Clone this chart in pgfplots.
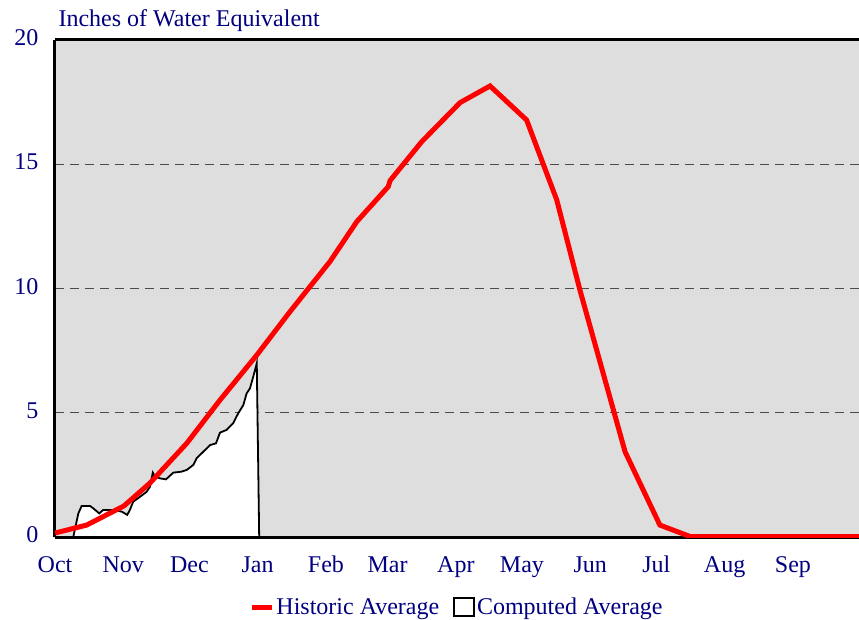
\documentclass[border=0pt]{standalone}
\usepackage{pgfplots}
\pgfplotsset{compat=1.18}
\usepackage{fontspec}
\setmainfont{Liberation Serif}
\definecolor{navy}{RGB}{0,0,128}
\definecolor{bggray}{RGB}{222,222,222}
\begin{document}
\begin{tikzpicture}
\begin{axis}[
  scale only axis, width=804bp, height=497bp,
  font=\fontsize{24bp}{28bp}\selectfont,
  /pgf/number format/assume math mode=true,
  xmin=0, xmax=365, ymin=0, ymax=20,
  axis x line*=box, axis y line*=left,
  axis line style={line width=3bp, -, black},
  axis background/.style={fill=bggray},
  xtick={0,31,61,92,123,151,182,212,243,273,304,335},
  xticklabels={Oct,Nov,Dec,Jan,Feb,Mar,Apr,May,Jun,Jul,Aug,Sep},
  ytick={0,5,10,15,20},
  major tick length=0pt,
  typeset ticklabels with strut,
  tick label style={text=navy},
  xticklabel style={yshift=-12bp},
  yticklabel style={xshift=-13bp},
  ymajorgrids,
  grid style={dash pattern=on 9bp off 6bp, line width=1bp, black!70},
  legend columns=2,
  reverse legend,
  legend style={at={(0.5,0)}, anchor=center, yshift=-70bp, draw=none, fill=none,
    text=navy, font=\fontsize{24bp}{28bp}\selectfont, inner sep=0pt,
    /tikz/every even column/.append style={column sep=12bp}},
  legend cell align=left,
]
\coordinate (sw) at (rel axis cs:0,0);
\coordinate (ne) at (rel axis cs:1,1);
\addplot[draw=black, line width=1.8bp, fill=white,
  legend image code/.code={\draw[black, line width=1.8bp, fill=white] (0bp,-9bp) rectangle (20bp,9bp);}]
coordinates {
(0,0) (8.3,0) (10.6,0.95) (12.1,1.25) (15.9,1.25) (17.4,1.15) (20.1,0.95) (21.9,1.09)
(26.5,1.09) (30.3,1.02) (32.8,0.89) (34.0,1.09) (35.5,1.42) (38.6,1.62) (41.6,1.82)
(43.1,2.02) (44.4,2.59) (45.4,2.43) (47.7,2.36) (50.4,2.32) (53.7,2.59) (57.5,2.63)
(59.8,2.70) (62.8,2.90) (64.3,3.17) (67.3,3.43) (70.4,3.70) (73.1,3.77) (74.9,4.20)
(77.9,4.31) (80.9,4.58) (83.2,4.98) (85.5,5.31) (87.0,5.78) (88.5,5.98) (90.0,6.45)
(91.6,6.99) (92.7,0)
} \closedcycle;
\addlegendentry{Computed Average}
\addplot[red, line width=5bp,
  legend image code/.code={\draw[red, line width=5bp] (0bp,0bp) -- (20bp,0bp);}]
coordinates {
(0,0.16) (14.4,0.48) (31.3,1.25) (43.1,2.17) (59.8,3.77) (74.9,5.51) (91.6,7.32)
(106.7,9.07) (124.8,11.08) (137,12.69) (151.3,14.1) (152.1,14.34) (166.5,15.91)
(183.9,17.48) (197.5,18.15) (214.1,16.78) (227.8,13.56) (238.3,9.94) (258.8,3.43)
(274.6,0.48) (288.3,0.02) (365,0.02)
};
\addlegendentry{Historic Average}
\end{axis}
\node[anchor=base west, text=navy, font=\fontsize{24bp}{28bp}\selectfont] at ([yshift=13bp]sw |- ne) {Inches of Water Equivalent};
\pgfresetboundingbox
\path ([shift={(-55bp,-83bp)}]sw) rectangle ([shift={(0bp,40bp)}]ne);
\end{tikzpicture}
\end{document}
